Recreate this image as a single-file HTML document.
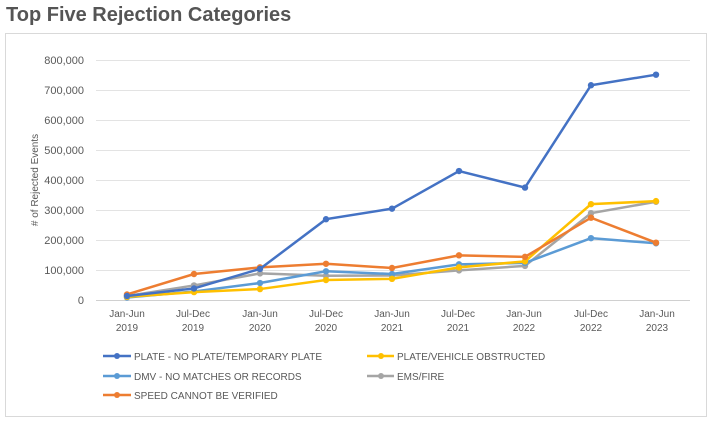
<!DOCTYPE html>
<html><head><meta charset="utf-8"><style>
body{margin:0;background:#fff;width:710px;height:422px;overflow:hidden;font-family:"Liberation Sans",sans-serif}
</style></head><body>
<svg width="710" height="422" xmlns="http://www.w3.org/2000/svg" font-family="Liberation Sans, sans-serif">
<text x="6" y="21" font-size="20" font-weight="bold" fill="#555">Top Five Rejection Categories</text>
<rect x="5.5" y="33.5" width="701" height="383" fill="#fff" stroke="#d9d9d9"/>
<g stroke="#e3e3e3" stroke-width="1">
<line x1="96" x2="690" y1="60.5" y2="60.5"/><line x1="96" x2="690" y1="90.5" y2="90.5"/><line x1="96" x2="690" y1="120.5" y2="120.5"/><line x1="96" x2="690" y1="150.5" y2="150.5"/><line x1="96" x2="690" y1="180.5" y2="180.5"/><line x1="96" x2="690" y1="210.5" y2="210.5"/><line x1="96" x2="690" y1="240.5" y2="240.5"/><line x1="96" x2="690" y1="270.5" y2="270.5"/><line x1="96" x2="690" y1="300.5" y2="300.5" stroke="#d0d0d0"/>
</g>
<g font-size="11" fill="#595959" text-anchor="end">
<text x="84" y="64">800,000</text><text x="84" y="94">700,000</text><text x="84" y="124">600,000</text><text x="84" y="154">500,000</text><text x="84" y="184">400,000</text><text x="84" y="214">300,000</text><text x="84" y="244">200,000</text><text x="84" y="274">100,000</text><text x="84" y="304">0</text>
</g>
<text transform="translate(38,180) rotate(-90)" font-size="10" fill="#595959" text-anchor="middle"># of Rejected Events</text>
<g font-size="10" fill="#595959" text-anchor="middle">
<text x="127" y="317">Jan-Jun</text><text x="127" y="331">2019</text>
<text x="193" y="317">Jul-Dec</text><text x="193" y="331">2019</text>
<text x="260" y="317">Jan-Jun</text><text x="260" y="331">2020</text>
<text x="326" y="317">Jul-Dec</text><text x="326" y="331">2020</text>
<text x="392" y="317">Jan-Jun</text><text x="392" y="331">2021</text>
<text x="458" y="317">Jul-Dec</text><text x="458" y="331">2021</text>
<text x="524" y="317">Jan-Jun</text><text x="524" y="331">2022</text>
<text x="591" y="317">Jul-Dec</text><text x="591" y="331">2022</text>
<text x="657" y="317">Jan-Jun</text><text x="657" y="331">2023</text>
</g>
<g id="series"></g>
<g font-size="10" fill="#595959">
<line x1="103" x2="131" y1="356" y2="356" stroke="#4472C4" stroke-width="2.5"/><circle cx="117" cy="356" r="3" fill="#4472C4"/><text x="134" y="360">PLATE - NO PLATE/TEMPORARY PLATE</text>
<line x1="367" x2="394" y1="356" y2="356" stroke="#FFC000" stroke-width="2.5"/><circle cx="381" cy="356" r="3" fill="#FFC000"/><text x="397" y="360">PLATE/VEHICLE OBSTRUCTED</text>
<line x1="103" x2="131" y1="376" y2="376" stroke="#5B9BD5" stroke-width="2.5"/><circle cx="117" cy="376" r="3" fill="#5B9BD5"/><text x="134" y="380">DMV - NO MATCHES OR RECORDS</text>
<line x1="367" x2="394" y1="376" y2="376" stroke="#A5A5A5" stroke-width="2.5"/><circle cx="381" cy="376" r="3" fill="#A5A5A5"/><text x="397" y="380">EMS/FIRE</text>
<line x1="103" x2="131" y1="395" y2="395" stroke="#ED7D31" stroke-width="2.5"/><circle cx="117" cy="395" r="3" fill="#ED7D31"/><text x="134" y="399">SPEED CANNOT BE VERIFIED</text>
</g>
</svg>
<script>
var xs=[127,194,260,326,392,459,525,591,656];
var S=[
["#A5A5A5",[15,50,90,82,83,100,115,290,328]],
["#5B9BD5",[10,30,58,97,88,120,125,207,190]],
["#FFC000",[12,28,38,68,72,110,130,320,330]],
["#ED7D31",[20,88,110,122,108,150,145,275,192]],
["#4472C4",[15,40,105,270,305,430,375,715,750]]];
var g=document.getElementById('series'),ns="http://www.w3.org/2000/svg";
S.forEach(function(s){var p=document.createElementNS(ns,'polyline');
p.setAttribute('points',s[1].map(function(v,i){return xs[i]+','+(300.5-v*0.3011)}).join(' '));
p.setAttribute('fill','none');p.setAttribute('stroke',s[0]);p.setAttribute('stroke-width','2.5');g.appendChild(p);
s[1].forEach(function(v,i){var c=document.createElementNS(ns,'circle');c.setAttribute('cx',xs[i]);c.setAttribute('cy',300.5-v*0.3011);c.setAttribute('r','3.2');c.setAttribute('fill',s[0]);g.appendChild(c);});});
</script>
</body></html>
